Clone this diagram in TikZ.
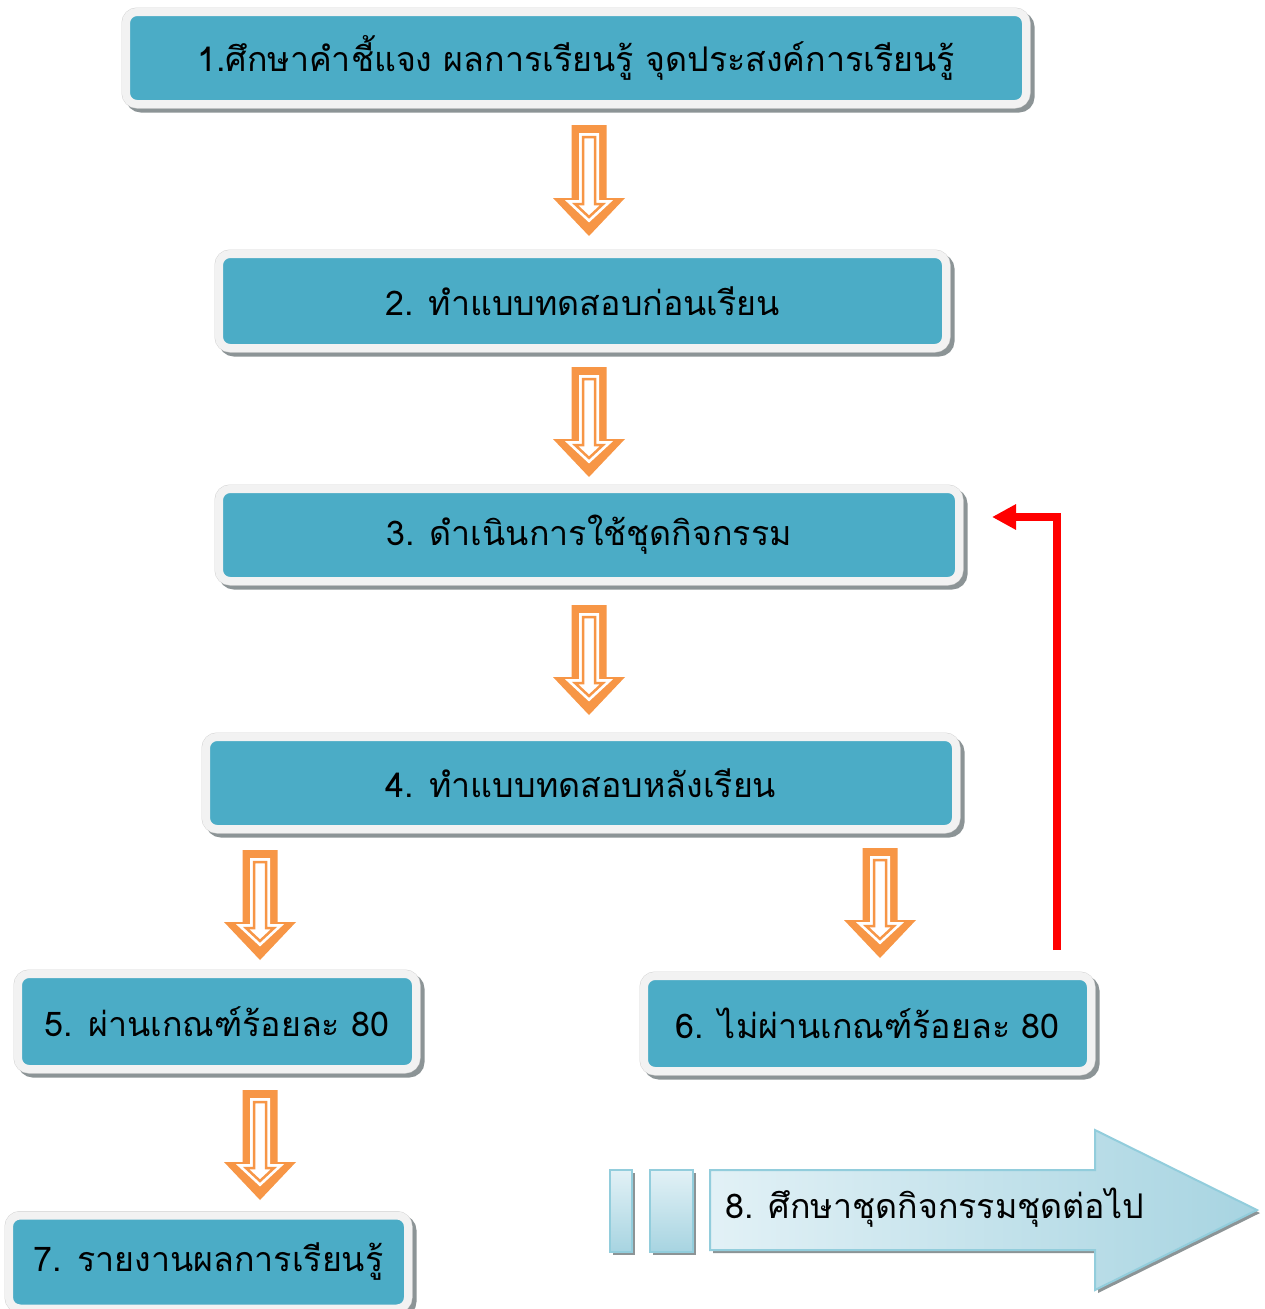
\documentclass[tikz,border=0pt]{standalone}
\usepackage{fontspec}
\setmainfont[Script=Thai]{Loma}
\usetikzlibrary{shadows,arrows.meta}
\definecolor{teal1}{HTML}{4BACC6}
\definecolor{frame1}{HTML}{F2F2F2}
\definecolor{frameb}{HTML}{D4D4D4}
\definecolor{org}{HTML}{F79646}
\definecolor{ablue1}{HTML}{E2F1F6}
\definecolor{ablue2}{HTML}{A7D4E1}
\definecolor{ablueln}{HTML}{92CDDC}
\definecolor{shad}{HTML}{8C9496}
\tikzset{
  x=1pt, y=-1pt,
  tbox/.style={rectangle, rounded corners=11pt, fill=teal1, draw=frame1, line width=8pt,
    drop shadow={shadow xshift=4pt, shadow yshift=-4pt, fill=shad, draw=shad, line width=9pt, opacity=1},
    preaction={draw=frameb, line width=9pt},
    inner sep=0pt, outer sep=0pt, font=\fontsize{34}{40}\selectfont, text=black},
  redline/.style={draw=red, line width=8pt, -{Triangle[length=24pt,width=24pt]}},
}
\newcommand\orarrow[3]{%
  \fill[org] (#1-17.5,#2) -- (#1+17.5,#2) -- (#1+17.5,#3-38) -- (#1+36,#3-38) -- (#1,#3) -- (#1-36,#3-38) -- (#1-17.5,#3-38) -- cycle;
  \draw[white, fill=white, line width=8pt, line join=miter] (#1-6,#2+12) -- (#1+6,#2+12) -- (#1+6,#3-32) -- (#1+14,#3-32) -- (#1,#3-19) -- (#1-14,#3-32) -- (#1-6,#3-32) -- cycle;
  \draw[org, line width=2.5pt, line join=miter] (#1-6,#2+12) -- (#1+6,#2+12) -- (#1+6,#3-32) -- (#1+14,#3-32) -- (#1,#3-19) -- (#1-14,#3-32) -- (#1-6,#3-32) -- cycle;
}
\begin{document}
\begin{tikzpicture}
\useasboundingbox (0,0) rectangle (1265,1309);
\fill[white] (0,0) rectangle (1265,1309);

\node[tbox, minimum width=900pt, minimum height=92pt] (b1) at (576,58) {1.ศึกษาคำชี้แจง ผลการเรียนรู้ จุดประสงค์การเรียนรู้};
\node[tbox, minimum width=727pt, minimum height=94pt] (b2) at (582.5,301) {2. ทำแบบทดสอบก่อนเรียน};
\node[tbox, minimum width=740pt, minimum height=92pt] (b3) at (589,535) {3. ดำเนินการใช้ชุดกิจกรรม};
\node[tbox, minimum width=750pt, minimum height=92pt] (b4) at (581,783) {4. ทำแบบทดสอบหลังเรียน};
\node[tbox, minimum width=398pt, minimum height=95pt] (b5) at (217,1021.5) {5. ผ่านเกณฑ์ร้อยละ 80};
\node[tbox, minimum width=447pt, minimum height=95pt] (b6) at (867.5,1023.5) {6. ไม่ผ่านเกณฑ์ร้อยละ 80};
\node[tbox, minimum width=399pt, minimum height=93pt] (b7) at (208.5,1262) {7. รายงานผลการเรียนรู้};

\orarrow{589}{125}{236}
\orarrow{589}{367}{477}
\orarrow{589}{605}{715}
\orarrow{260}{850}{960}
\orarrow{880}{848}{958}
\orarrow{260}{1090}{1200}

\coordinate (rs) at (1057,950);
\coordinate (re) at (992,517);
\draw[redline] (rs) |- (re);

% big arrow 8
\fill[shad] (613,1173) rectangle (635,1255);
\fill[shad] (653,1173) rectangle (696,1255);
\fill[shad] (713,1173) -- (1098,1173) -- (1098,1133) -- (1260,1213) -- (1098,1293) -- (1098,1253) -- (713,1253) -- cycle;
\shade[top color=ablue1, bottom color=ablue2, draw=ablueln, line width=2pt] (610,1170) rectangle (632,1252);
\shade[top color=ablue1, bottom color=ablue2, draw=ablueln, line width=2pt] (650,1170) rectangle (693,1252);
\shade[left color=ablue1, right color=ablue2, draw=ablueln, line width=2pt] (710,1170) -- (1095,1170) -- (1095,1130) -- (1257,1210) -- (1095,1290) -- (1095,1250) -- (710,1250) -- cycle;
\node[anchor=west, font=\fontsize{34}{40}\selectfont, inner sep=0pt] (t8) at (725,1208) {8. ศึกษาชุดกิจกรรมชุดต่อไป};
\end{tikzpicture}
\end{document}
